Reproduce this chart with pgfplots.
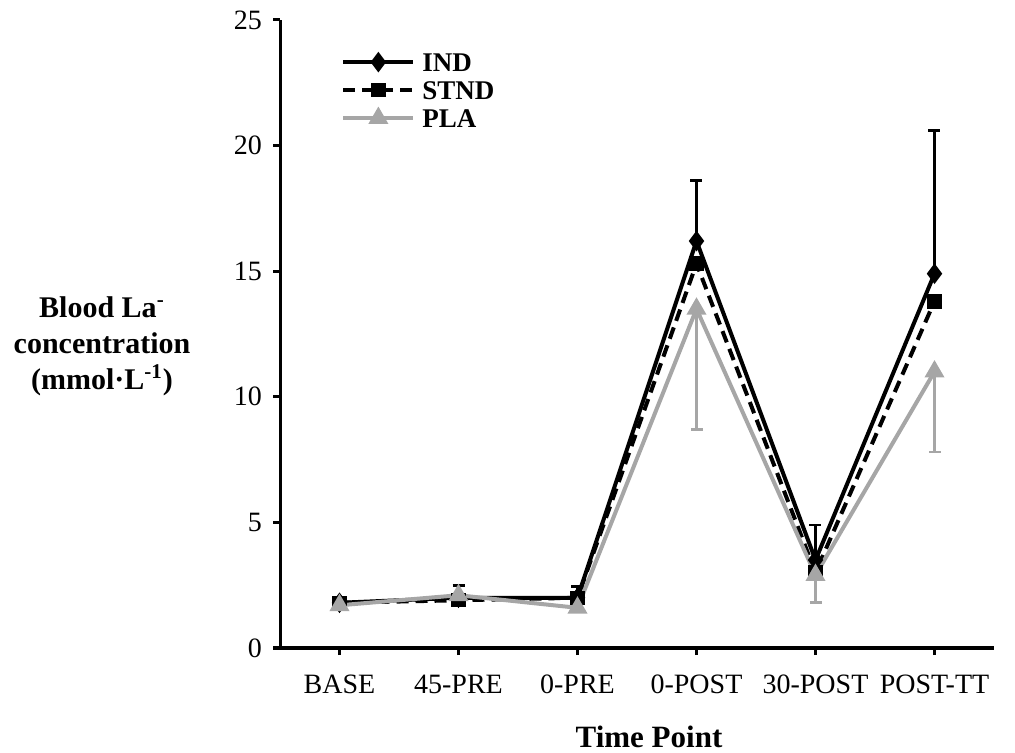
\documentclass[border=0pt]{standalone}
\usepackage{fontspec}
\setmainfont{Liberation Serif}
\usepackage{pgfplots}
\pgfplotsset{compat=1.18}
\definecolor{plagray}{HTML}{A6A6A6}

\begin{document}
\begin{tikzpicture}
\begin{axis}[
  scale only axis, width=357pt, height=314pt,
  xmin=-0.5, xmax=5.5, ymin=0, ymax=25,
  axis lines*=left,
  axis line style={line width=1.5pt, black},
  xtick={0,...,5},
  xticklabels={BASE,45-PRE,0-PRE,0-POST,30-POST,POST-TT},
  ytick={0,5,...,25},
  tick align=outside, major tick length=3.5pt,
  tick style={line width=1.5pt, black},
  tick label style={font=\fontsize{14}{16}\selectfont},
  /pgf/number format/assume math mode=true,
  yticklabel style={xshift=-2pt},
  xticklabel style={yshift=-6.5pt},
  clip=false,
  legend cell align=left,
  legend style={at={(rel axis cs:0.077,0.955)}, anchor=north west,
    draw=none, fill=none,
    font=\bfseries\fontsize{13.5}{14}\selectfont,
    nodes={inner sep=0pt, text height=9.5pt, text depth=0pt},
    row sep=4.5pt, column sep=3.5pt},
  legend image code/.code={%
    \draw[mark repeat=2, mark phase=2]
      plot coordinates {(0pt,0pt) (17.5pt,0pt) (35pt,0pt)};},
]
\coordinate (O) at (rel axis cs:0,0);

% error bars (upper for IND, lower for PLA)
\addplot[forget plot, only marks, mark=none,
  error bars/.cd, y dir=plus, y explicit,
  error bar style={black, line width=1.4pt},
  error mark options={rotate=90, mark size=3pt, black, line width=1.4pt}]
  coordinates {(1,2.0) +- (0,0.5) (2,2.0) +- (0,0.45) (3,16.2) +- (0,2.4)
               (4,3.5) +- (0,1.4) (5,14.9) +- (0,5.7)};
\addplot[forget plot, only marks, mark=none,
  error bars/.cd, y dir=minus, y explicit,
  error bar style={plagray, line width=1.4pt},
  error mark options={rotate=90, mark size=3pt, plagray, line width=1.4pt}]
  coordinates {(3,13.5) +- (0,4.8) (4,2.9) +- (0,1.1) (5,11.0) +- (0,3.2)};

% IND
\addplot[black, line width=2pt, mark=diamond*, mark size=3.5pt,
  mark options={solid}]
  coordinates {(0,1.8) (1,2.0) (2,2.0) (3,16.2) (4,3.5) (5,14.9)};
\addlegendentry{IND}
% STND
\addplot[black, line width=2pt, dash pattern=on 6pt off 3.5pt,
  mark=square*, mark size=2.6pt, mark options={solid}]
  coordinates {(0,1.8) (1,1.9) (2,2.0) (3,15.3) (4,3.0) (5,13.8)};
\addlegendentry{STND}
% PLA
\addplot[plagray, line width=2pt, mark=triangle*, mark size=3.8pt,
  mark options={solid}]
  coordinates {(0,1.7) (1,2.1) (2,1.6) (3,13.5) (4,2.9) (5,11.0)};
\addlegendentry{PLA}
\end{axis}

\node[align=center, font=\bfseries\fontsize{15}{18}\selectfont]
  at ([xshift=-89pt, yshift=151pt]O)
  {Blood La\textsuperscript{-}\\concentration\\(mmol·L\textsuperscript{-1})};
\node[anchor=base, font=\bfseries\fontsize{15.5}{18}\selectfont]
  at ([xshift=184.5pt, yshift=-49.5pt]O) {Time Point};

\pgfresetboundingbox
\useasboundingbox ([xshift=-140pt, yshift=-52.5pt]O)
  rectangle ([xshift=367.5pt, yshift=324pt]O);
\end{tikzpicture}
\end{document}
